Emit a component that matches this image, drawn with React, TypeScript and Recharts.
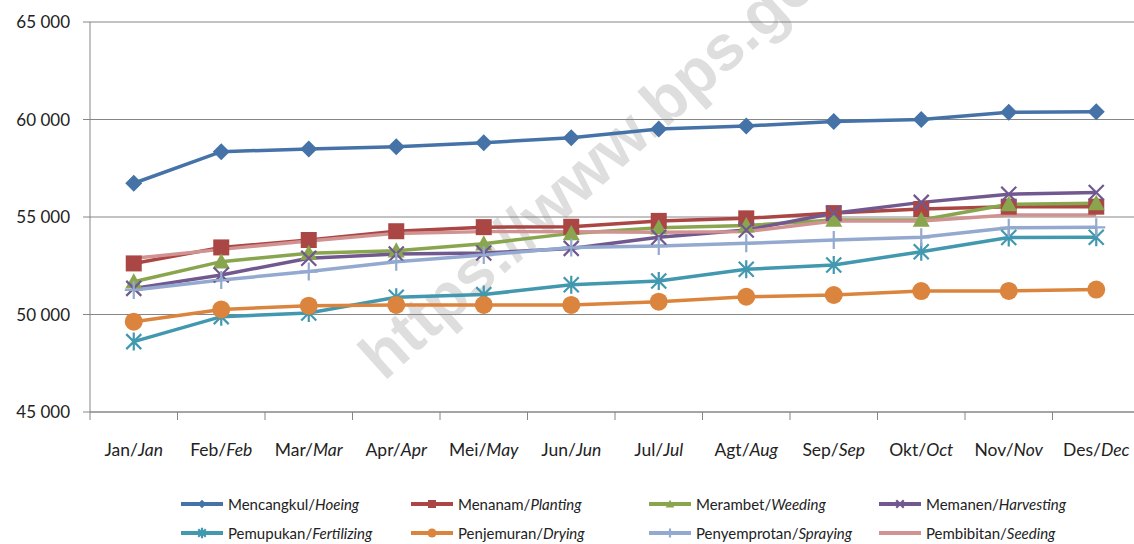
import React from 'react';
import { LineChart, Line, XAxis, YAxis, CartesianGrid } from 'recharts';

const months = ['Jan', 'Feb', 'Mar', 'Apr', 'Mei', 'Jun', 'Jul', 'Agt', 'Sep', 'Okt', 'Nov', 'Des'];
const monthsEn = ['Jan', 'Feb', 'Mar', 'Apr', 'May', 'Jun', 'Jul', 'Aug', 'Sep', 'Oct', 'Nov', 'Dec'];

const mencangkul = [56730, 58350, 58490, 58600, 58810, 59060, 59510, 59670, 59900, 60000, 60370, 60400];
const menanam = [52620, 53440, 53820, 54270, 54480, 54500, 54800, 54930, 55200, 55410, 55530, 55530];
const merambet = [51680, 52710, 53140, 53270, 53630, 54160, 54450, 54560, 54850, 54850, 55650, 55700];
const memanen = [51340, 52030, 52880, 53100, 53150, 53390, 53960, 54330, 55190, 55750, 56170, 56260];
const pemupukan = [48610, 49890, 50080, 50880, 51020, 51530, 51720, 52320, 52540, 53220, 53950, 53960];
const penjemuran = [49630, 50260, 50450, 50490, 50490, 50490, 50660, 50910, 51000, 51200, 51210, 51280];
const penyemprotan = [51260, 51770, 52200, 52710, 53050, 53440, 53510, 53650, 53820, 53960, 54450, 54470];
const pembibitan = [52880, 53340, 53770, 54160, 54250, 54250, 54220, 54250, 54800, 54800, 55100, 55100];

const yTicks = [45000, 50000, 55000, 60000, 65000];

const series = [
    { key: 'mencangkul', id: 'Mencangkul', en: 'Hoeing', color: '#4572A7', shape: 'diamond', values: mencangkul },
    { key: 'menanam', id: 'Menanam', en: 'Planting', color: '#AA4643', shape: 'square', values: menanam },
    { key: 'merambet', id: 'Merambet', en: 'Weeding', color: '#89A54E', shape: 'triangle', values: merambet },
    { key: 'memanen', id: 'Memanen', en: 'Harvesting', color: '#71588F', shape: 'x', values: memanen },
    { key: 'pemupukan', id: 'Pemupukan', en: 'Fertilizing', color: '#4198AF', shape: 'star', values: pemupukan },
    { key: 'penjemuran', id: 'Penjemuran', en: 'Drying', color: '#DB843D', shape: 'circle', values: penjemuran },
    { key: 'penyemprotan', id: 'Penyemprotan', en: 'Spraying', color: '#93A9CF', shape: 'plus', values: penyemprotan },
    { key: 'pembibitan', id: 'Pembibitan', en: 'Seeding', color: '#D19392', shape: 'none', values: pembibitan },
];

const data = months.map((m, i) => {
    const row: any = { month: m };
    series.forEach(s => { row[s.key] = s.values[i]; });
    return row;
});

const FONT = 'Lato, "Open Sans", sans-serif';
const GRID = '#868686';
const STEP = 87.5;

const Marker = ({ cx, cy, shape, color, s = 1 }: any) => {
    if (cx == null || cy == null) return null;
    let r;
    switch (shape) {
        case 'diamond':
            r = 8.5 * s;
            return <polygon points={`${cx},${cy - r} ${cx + r},${cy} ${cx},${cy + r} ${cx - r},${cy}`} fill={color} />;
        case 'square':
            r = 8 * s;
            return <rect x={cx - r} y={cy - r} width={2 * r} height={2 * r} fill={color} />;
        case 'triangle':
            r = 8.5 * s;
            return <polygon points={`${cx},${cy - r} ${cx + r},${cy + r * 0.8} ${cx - r},${cy + r * 0.8}`} fill={color} />;
        case 'x':
            r = 7.5 * s;
            return <path d={`M${cx - r},${cy - r}L${cx + r},${cy + r}M${cx + r},${cy - r}L${cx - r},${cy + r}`} stroke={color} strokeWidth={2.2} />;
        case 'star':
            r = 7.5 * s;
            return <path d={`M${cx - r},${cy - r}L${cx + r},${cy + r}M${cx + r},${cy - r}L${cx - r},${cy + r}M${cx},${cy - r - 1.5}L${cx},${cy + r + 1.5}`} stroke={color} strokeWidth={2.2} />;
        case 'circle':
            return <circle cx={cx} cy={cy} r={9 * s} fill={color} />;
        case 'plus':
            r = 9 * s;
            return <path d={`M${cx},${cy - r}L${cx},${cy + r}M${cx - r},${cy}L${cx + r},${cy}`} stroke={color} strokeWidth={2.2} />;
        default:
            return null;
    }
};

const MonthTick = (props: any) => {
    const { x, y, payload } = props;
    const half = STEP / 2;
    const i = months.indexOf(payload.value);
    return (
        <g>
            <line x1={x - half} x2={x - half} y1={y} y2={y + 8} stroke={GRID} />
            {i === months.length - 1 && <line x1={x + half} x2={x + half} y1={y} y2={y + 8} stroke={GRID} />}
            <text x={x} y={y + 44} textAnchor="middle" fontSize={17.5} fill="#222" fontFamily={FONT}>
                <tspan>{payload.value}/</tspan>
                <tspan fontStyle="italic">{monthsEn[i]}</tspan>
            </text>
        </g>
    );
};

const legendCols = [180, 410, 648, 878];
const legendRows = [504, 533];

const LegendBox = () => (
    <div style={{ position: 'absolute', left: 0, top: 0, width: 1134, height: 544, pointerEvents: 'none' }}>
        {series.map((s, i) => {
            const left = legendCols[i % 4];
            const top = legendRows[Math.floor(i / 4)];
            return (
                <div key={s.key} style={{ position: 'absolute', left, top: top - 10, height: 20, display: 'flex', alignItems: 'center', whiteSpace: 'nowrap' }}>
                    <svg width={44} height={20} style={{ display: 'block' }}>
                        <line x1={1} x2={43} y1={10} y2={10} stroke={s.color} strokeWidth={4} />
                        <Marker cx={22} cy={10} shape={s.shape} color={s.color} s={0.5} />
                    </svg>
                    <span style={{ marginLeft: 4, fontFamily: FONT, fontSize: 15, color: '#222' }}>
                        {s.id}/<i>{s.en}</i>
                    </span>
                </div>
            );
        })}
    </div>
);

export default function App() {
    return (
        <div style={{ position: 'fixed', left: 0, top: 0, width: 1134, height: 544, overflow: 'hidden', background: '#fff' }}>
            <svg width={1134} height={544} style={{ position: 'absolute', left: 0, top: 0 }}>
                <text
                    x={384}
                    y={382}
                    transform="rotate(-42 384 382)"
                    fontFamily='"Liberation Sans", Arial, sans-serif'
                    fontWeight="bold"
                    fontSize={64}
                    fill="#dedede"
                >
                    https://www.bps.go.id
                </text>
            </svg>
            <div style={{ position: 'absolute', left: 0, top: 0 }}>
                <LineChart width={1150} height={544} data={data} margin={{ top: 22, right: 10, left: 0, bottom: 92 }}>
                    <CartesianGrid horizontal vertical={false} stroke={GRID} strokeWidth={1} />
                    <XAxis
                        dataKey="month"
                        height={40}
                        padding={{ left: STEP / 2, right: STEP / 2 }}
                        axisLine={{ stroke: GRID }}
                        tickLine={false}
                        tickSize={0}
                        tickMargin={0}
                        interval={0}
                        tick={<MonthTick />}
                    />
                    <YAxis
                        width={90}
                        domain={[45000, 65000]}
                        ticks={yTicks}
                        interval={0}
                        axisLine={{ stroke: GRID }}
                        tickLine={{ stroke: GRID }}
                        tickSize={7}
                        tickMargin={13}
                        tickFormatter={(v: number) => `${Math.floor(v / 1000)} 000`}
                        tick={{ fontSize: 17, fill: '#222', fontFamily: FONT }}
                    />
                    {series.map(s => (
                        <Line
                            key={s.key}
                            type="linear"
                            dataKey={s.key}
                            stroke={s.color}
                            strokeWidth={3.5}
                            isAnimationActive={false}
                            activeDot={false}
                            dot={(p: any) => <Marker key={`${s.key}-${p.index}`} cx={p.cx} cy={p.cy} shape={s.shape} color={s.color} />}
                        />
                    ))}
                </LineChart>
            </div>
            <LegendBox />
        </div>
    );
}
